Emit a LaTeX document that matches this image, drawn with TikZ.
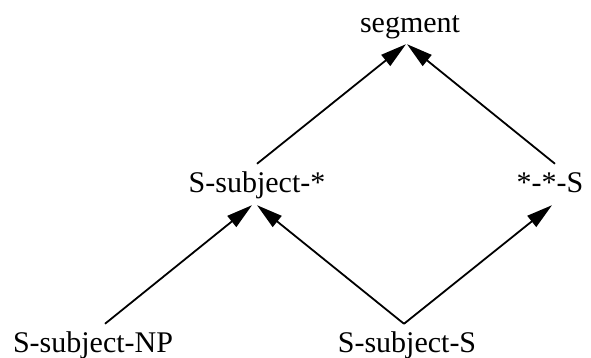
\documentclass[tikz,border=0pt]{standalone}
\usepackage{fontspec}
\setmainfont{Liberation Serif}
\usetikzlibrary{arrows.meta}
\begin{document}
\begin{tikzpicture}[x=1pt,y=1pt,
  lbl/.style={anchor=base, font=\fontsize{30}{30}\selectfont, text height=22pt, text depth=6pt, inner ysep=7pt, inner xsep=0pt},
  arr/.style={-{Triangle[length=26pt,width=14pt]}, line width=1.8pt}]
\useasboundingbox (0,0) rectangle (591,358);
\node[lbl] (seg)   at (410,325) {segment};
\node[lbl] (ssubj) at (257,165) {S-subject-*};
\node[lbl] (star)  at (550,165) {*-*-S};
\node[lbl] (np)    at (93,5)    {S-subject-NP};
\node[lbl] (ss)    at (407,5)   {S-subject-S};
\draw[arr] (ssubj.north) -- ([xshift=-4pt,yshift=2pt]seg.south);
\draw[arr] ([xshift=5pt]star.north) -- ([xshift=-3pt,yshift=2pt]seg.south);
\draw[arr] ([xshift=12pt]np.north) -- ([xshift=-5pt,yshift=1pt]ssubj.south);
\draw[arr] ([xshift=-3pt]ss.north) -- ([yshift=1pt]ssubj.south);
\draw[arr] ([xshift=-3pt]ss.north) -- ([xshift=2pt,yshift=1pt]star.south);
\end{tikzpicture}
\end{document}
